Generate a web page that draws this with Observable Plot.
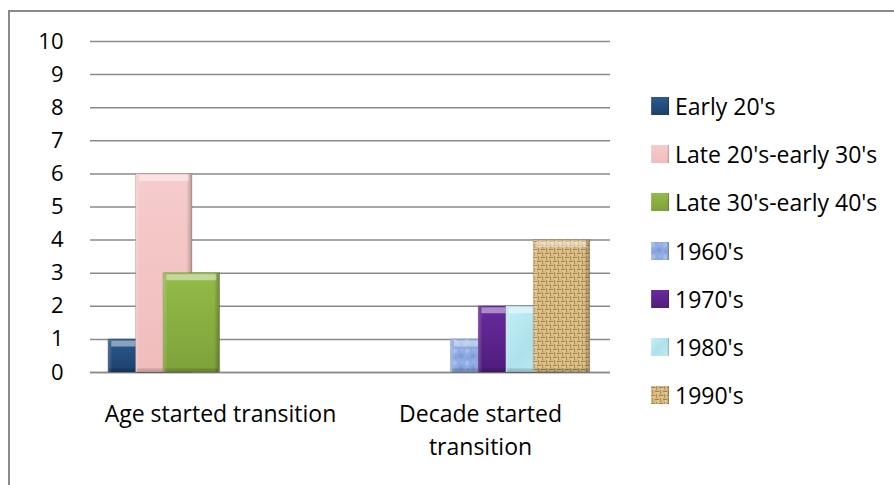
<!DOCTYPE html>
<html>
<head>
<meta charset="utf-8">
<script src="https://cdn.jsdelivr.net/npm/d3@7"></script>
<script src="https://cdn.jsdelivr.net/npm/@observablehq/plot@0.6"></script>
<style>
  html, body { margin: 0; padding: 0; background: #fff; overflow: hidden; }
  #chart { position: relative; width: 894px; height: 485px; font-family: "Open Sans", Lato, sans-serif; }
  #chart svg.plot { position: absolute; left: 0; top: 0; }
  #border { position: absolute; left: 8px; top: 10px; width: 900px; height: 500px;
            border-top: 2px solid #8a8a8a; border-left: 2px solid #8a8a8a; box-sizing: border-box; }
  #legend { position: absolute; left: 651px; top: 0; }
  .item { position: absolute; left: 0; display: flex; align-items: center; white-space: nowrap;
          font-size: 23px; color: #000; height: 30px; }
  .item svg { margin-right: 6px; flex: none; }
</style>
</head>
<body>
<div id="chart"><div id="border"></div><div id="legend"></div></div>
<script>
// Survey counts: when respondents started their transition
const categories = ["Age started transition", "Decade started transition"];
const categoryLines = ["Age started transition", "Decade started\ntransition"];
const series = ["Early 20's", "Late 20's-early 30's", "Late 30's-early 40's", "1960's", "1970's", "1980's", "1990's"];
const ageValues = [1, 6, 3, 0, 0, 0, 0];
const decadeValues = [0, 0, 0, 1, 2, 2, 4];
const yTicks = [0, 1, 2, 3, 4, 5, 6, 7, 8, 9, 10];

// Long table: one row per category × series, zero rows left out
const table = [];
[ageValues, decadeValues].forEach((vals, c) => {
  vals.forEach((v, i) => { if (v > 0) table.push({category: categories[c], series: series[i], i, value: v}); });
});

// Bars within a group are spaced one step apart and are about two steps wide (they overlap)
const barSpan = 2.05;
const fillOf = (i) => `url(#fill${i})`;

// Each series is drawn as body + bevel shading, series by series, so later bars sit on top
const barMarks = series.flatMap((name, i) => {
  const rows = table.filter((d) => d.i === i);
  const geom = {fx: "category", x1: "i", x2: (d) => d.i + barSpan};
  return [
    Plot.rect(rows, {...geom, y1: 0, y2: "value", fill: fillOf(i), stroke: "#0003", strokeWidth: 0.8}),
    Plot.rect(rows, {...geom, y1: 0, y2: "value", fill: "url(#bevel)"}),
    Plot.ruleY(rows, {fx: "category", x1: (d) => d.i + 0.12, x2: (d) => d.i + barSpan - 0.12, y: "value",
                      stroke: "#fff", strokeOpacity: 0.45, strokeWidth: 6, dy: 4}),
    Plot.ruleY(rows, {fx: "category", x1: (d) => d.i + 0.05, x2: (d) => d.i + barSpan - 0.05, y: 0,
                      stroke: "#000", strokeOpacity: 0.15, strokeWidth: 4, dy: -2})
  ];
});

const svg = Plot.plot({
  width: 894,
  height: 485,
  marginLeft: 89,
  marginRight: 284,
  marginTop: 41,
  marginBottom: 113,
  style: {fontFamily: "'Open Sans', Lato, sans-serif", fontSize: "23px", color: "#000", background: "transparent"},
  fx: {domain: categories, padding: 0, label: null},
  x: {domain: [-0.652, 8.786], axis: null},
  y: {domain: [0, 10], label: null},
  marks: [
    Plot.gridY(yTicks, {stroke: "#8a8a8a", strokeOpacity: 1, strokeWidth: 1.5}),
    Plot.ruleY([0], {stroke: "#8a8a8a", strokeWidth: 1.5}),
    Plot.axisY(yTicks, {tickSize: 0, tickPadding: 27, line: true, stroke: "#8a8a8a", strokeWidth: 1.5, fill: "#000",
                        fontSize: 22}),
    Plot.axisFx({anchor: "bottom", tickSize: 0, tickPadding: 26, lineHeight: 1.44, fill: "#000",
                 tickFormat: (d) => categoryLines[categories.indexOf(d)], label: null}),
    ...barMarks
  ]
});

// Fills, textures and bevel gradient referenced by the bars and legend swatches
d3.select(svg).insert("defs", ":first-child").html(`
  <linearGradient id="fill0" x1="0" x2="0" y1="0" y2="1"><stop offset="0" stop-color="#2b5a8e"/><stop offset="1" stop-color="#1c406c"/></linearGradient>
  <linearGradient id="fill1" x1="0" x2="0" y1="0" y2="1"><stop offset="0" stop-color="#f6cccc"/><stop offset="1" stop-color="#f0bcbc"/></linearGradient>
  <linearGradient id="fill2" x1="0" x2="0" y1="0" y2="1"><stop offset="0" stop-color="#93bb48"/><stop offset="1" stop-color="#7ea23a"/></linearGradient>
  <pattern id="fill3" width="12" height="12" patternUnits="userSpaceOnUse">
    <rect width="12" height="12" fill="#8eaae0"/>
    <circle cx="2" cy="3" r="2.4" fill="#a9c0ee" opacity="0.8"/><circle cx="8" cy="8" r="2.6" fill="#7896d6" opacity="0.7"/>
    <circle cx="9" cy="2" r="1.6" fill="#9db6ec" opacity="0.8"/><circle cx="3" cy="9.5" r="1.5" fill="#7f9bd8" opacity="0.7"/>
  </pattern>
  <linearGradient id="fill4" x1="0" x2="0" y1="0" y2="1"><stop offset="0" stop-color="#6a2a9e"/><stop offset="1" stop-color="#4f1c7c"/></linearGradient>
  <linearGradient id="fill5" x1="0" x2="1" y1="0" y2="1"><stop offset="0" stop-color="#c4eef6"/><stop offset="0.5" stop-color="#aee1ec"/><stop offset="1" stop-color="#c2ecf4"/></linearGradient>
  <pattern id="fill6" width="8" height="8" patternUnits="userSpaceOnUse">
    <rect width="8" height="8" fill="#d8bb82"/>
    <path d="M0 1.5h4M4 5.5h4" stroke="#a07f48" stroke-width="1.2"/>
    <path d="M5.5 0v4M1.5 4v4" stroke="#b3925a" stroke-width="1.2"/>
    <rect x="2" y="2.5" width="2" height="1" fill="#efdcb0"/><rect x="6" y="6.5" width="2" height="1" fill="#efdcb0"/>
  </pattern>
  <linearGradient id="bevel" x1="0" x2="1" y1="0" y2="0">
    <stop offset="0" stop-color="#fff" stop-opacity="0.2"/>
    <stop offset="0.08" stop-color="#fff" stop-opacity="0"/>
    <stop offset="0.9" stop-color="#000" stop-opacity="0"/>
    <stop offset="1" stop-color="#000" stop-opacity="0.25"/>
  </linearGradient>
`);
document.getElementById("chart").appendChild(svg);

// Legend at the right: one swatch per series
const legend = d3.select("#legend");
series.forEach((name, i) => {
  const item = legend.append("div").attr("class", "item").style("top", `${106 + i * 48.2 - 15}px`);
  const sw = item.append("svg").attr("width", 18).attr("height", 18);
  sw.append("rect").attr("width", 18).attr("height", 18).attr("fill", fillOf(i));
  sw.append("rect").attr("width", 18).attr("height", 18).attr("fill", "url(#bevel)");
  item.append("span").text(name);
});
</script>
</body>
</html>
